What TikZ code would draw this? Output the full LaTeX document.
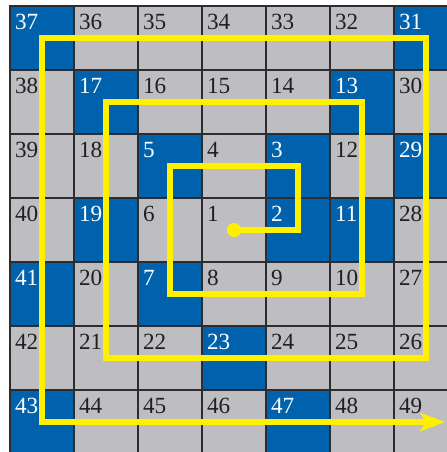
\documentclass[tikz,border=0pt]{standalone}
\usepackage{fontspec}
\setmainfont{Liberation Serif}
\usetikzlibrary{arrows.meta}
\definecolor{cellgray}{RGB}{190,190,194}
\definecolor{primeblue}{RGB}{0,98,172}
\definecolor{spiralyellow}{RGB}{255,240,0}
\definecolor{gridline}{RGB}{45,45,48}
\definecolor{numdark}{RGB}{35,31,32}

\begin{document}
\begin{tikzpicture}[
    cell/.style={draw=gridline, line width=0.6pt, fill=cellgray, minimum size=1cm, inner sep=0pt,
      label={[num, text=numdark]north west:#1}},
    pcell/.style={draw=gridline, line width=0.6pt, fill=primeblue, minimum size=1cm, inner sep=0pt,
      label={[num, text=white]north west:#1}},
    num/.style={anchor=north west, inner xsep=2.4pt, inner ysep=3.9pt, font=\fontsize{10.3}{12}\selectfont},
    spiral/.style={draw=spiralyellow, line width=2.3pt},
    >={Stealth[length=11pt, width=8pt, inset=2.5pt]}
  ]
  \useasboundingbox (-0.156,0.094) rectangle (6.828,-6.969);
  \clip (-0.156,0.094) rectangle (6.828,-6.969);

  % number grid, primes in blue
  \foreach \row [count=\r from 0] in {
      {37,36,35,34,33,32,31},
      {38,17,16,15,14,13,30},
      {39,18,5,4,3,12,29},
      {40,19,6,1,2,11,28},
      {41,20,7,8,9,10,27},
      {42,21,22,23,24,25,26},
      {43,44,45,46,47,48,49}} {
    \foreach \k [count=\c from 0] in \row {
      \pgfmathparse{isprime(\k)}
      \ifnum\pgfmathresult=1 \def\sty{pcell}\else\def\sty{cell}\fi
      \node[\sty=\k] (n\k) at (\c+0.5,-\r-0.5) {};
    }
  }

  % spiral
  \coordinate (spiralend) at (6.8,-6.5);
  \draw[spiral, line join=miter, ->] (n1.center) -- (n2.center) -- (n3.center) -- (n5.center)
    -- (n7.center) -- (n10.center) -- (n13.center) -- (n17.center) -- (n21.center)
    -- (n26.center) -- (n31.center) -- (n37.center) -- (n43.center) -- (spiralend);
  \fill[spiralyellow] (n1.center) circle (0.11);
\end{tikzpicture}
\end{document}
